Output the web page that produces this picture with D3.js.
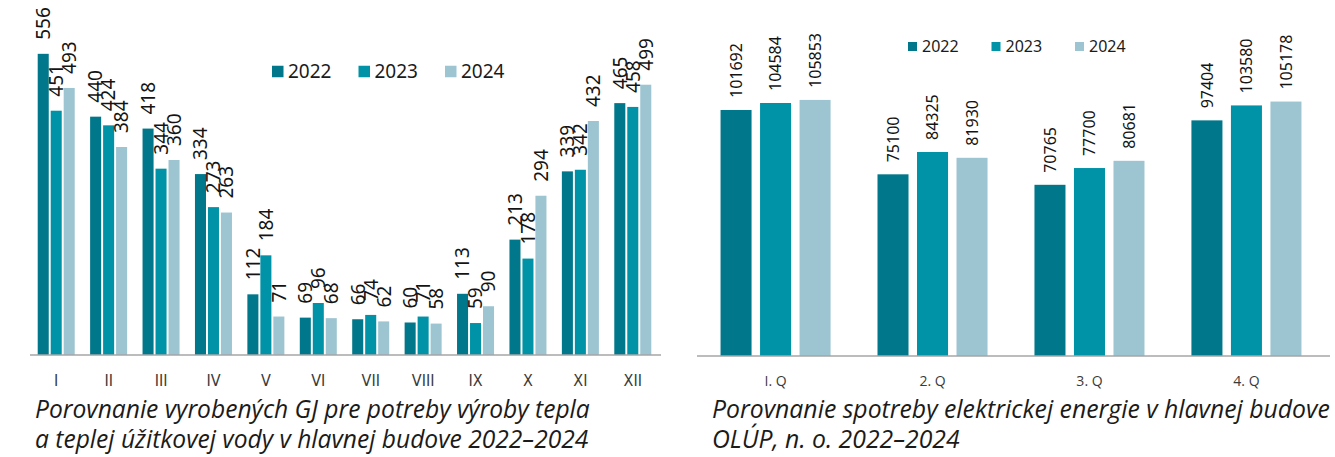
<!DOCTYPE html>
<html>
<head>
<meta charset="utf-8">
<script src="https://cdn.jsdelivr.net/npm/d3@7"></script>
<style>
  body { margin: 0; background: #fff; }
  svg { display: block; }
</style>
</head>
<body>
<div id="chart"></div>
<script>
const width = 1335
const height = 457

// data
const years = ["2022", "2023", "2024"]
const months = ["I", "II", "III", "IV", "V", "VI", "VII", "VIII", "IX", "X", "XI", "XII"]
const gj2022 = [556, 440, 418, 334, 112, 69, 66, 60, 113, 213, 339, 465]
const gj2023 = [451, 424, 344, 273, 184, 96, 74, 71, 59, 178, 342, 458]
const gj2024 = [493, 384, 360, 263, 71, 68, 62, 58, 90, 294, 432, 499]
const quarters = ["I. Q", "2. Q", "3. Q", "4. Q"]
const el2022 = [101692, 75100, 70765, 97404]
const el2023 = [104584, 84325, 77700, 103580]
const el2024 = [105853, 81930, 80681, 105178]
const caption1 = ["Porovnanie vyrobených GJ pre potreby výroby tepla", "a teplej úžitkovej vody v hlavnej budove 2022–2024"]
const caption2 = ["Porovnanie spotreby elektrickej energie v hlavnej budove", "OLÚP, n. o. 2022–2024"]

const colors = d3.scaleOrdinal().domain(years).range(["#00778a", "#0093a7", "#9cc4d1"])

const svg = d3.select("#chart").append("svg").attr("width", width).attr("height", height)

function drawChart(opts) {
    const g = svg.append("g")
    const rows = opts.cats.map((c, i) => ({cat: c, values: years.map((yr, k) => ({year: yr, value: opts.series[k][i]}))}))

    const x0 = d3.scaleBand().domain(opts.cats).range(opts.xRange)
        .paddingInner(opts.padInner).paddingOuter(opts.padOuter)
    const x1 = d3.scaleBand().domain(years).range([0, x0.bandwidth()]).paddingInner(opts.barPad)
    const y = d3.scaleLinear().domain(opts.yDomain).range(opts.yRange)

    const groups = g.selectAll("g.grp").data(rows).join("g")
        .attr("class", "grp")
        .attr("transform", d => `translate(${x0(d.cat)},0)`)

    groups.selectAll("rect").data(d => d.values).join("rect")
        .attr("x", d => x1(d.year))
        .attr("y", d => y(d.value))
        .attr("width", x1.bandwidth())
        .attr("height", d => y(0) - y(d.value))
        .attr("fill", d => colors(d.year))

    groups.selectAll("text.val").data(d => d.values).join("text")
        .attr("class", "val")
        .attr("transform", d => `translate(${x1(d.year) + x1.bandwidth() / 2},${y(d.value) - opts.labelGap}) rotate(-90)`)
        .attr("dy", "0.36em")
        .attr("font-family", "'Noto Sans', sans-serif")
        .attr("font-size", opts.labelSize)
        .attr("fill", "#141414")
        .text(d => d.value)

    // baseline + category labels
    const axis = g.append("g").attr("transform", `translate(0,${y(0)})`)
        .call(d3.axisBottom(x0).tickSize(0).tickPadding(opts.tickPad))
    axis.select(".domain").attr("stroke", "#a6a6a6").attr("stroke-width", 1.5)
        .attr("d", `M${opts.xRange[0]},0H${opts.axisEnd}`)
    axis.selectAll("text")
        .attr("font-family", opts.tickFont)
        .attr("font-size", opts.tickSize)
        .attr("fill", "#3a3a3a")

    // legend
    const leg = g.selectAll("g.leg").data(years).join("g")
        .attr("class", "leg")
        .attr("transform", (d, i) => `translate(${opts.legX + i * opts.legStep},${opts.legY})`)
    leg.append("rect")
        .attr("x", 0).attr("y", -opts.sw / 2)
        .attr("width", opts.sw).attr("height", opts.sw)
        .attr("fill", d => colors(d))
    leg.append("text")
        .attr("x", opts.legTextDx).attr("dy", "0.36em")
        .attr("font-family", "'Noto Sans', sans-serif")
        .attr("font-size", opts.legSize)
        .attr("fill", "#1b1b1b")
        .text(d => d)

    // caption, fitted to the width of the first line
    const cap = g.selectAll("text.cap").data(opts.caption).join("text")
        .attr("class", "cap")
        .attr("x", opts.capX)
        .attr("y", (d, i) => 418 + i * 30)
        .attr("font-family", "'Open Sans', 'Noto Sans', sans-serif")
        .attr("font-style", "italic")
        .attr("font-size", 20)
        .attr("fill", "#1b1b1b")
        .text(d => d)
    const w = cap.node().getComputedTextLength()
    cap.attr("font-size", 20 * opts.capWidth / w)
}

drawChart({
    cats: months, series: [gj2022, gj2023, gj2024],
    xRange: [30, 659], axisEnd: 661, padInner: 0.294, padOuter: 0.147, barPad: 0.15,
    yDomain: [0, 600], yRange: [355, 30],
    labelGap: 14, labelSize: 19,
    tickPad: 20, tickSize: 16, tickFont: "'Liberation Sans Narrow', 'DejaVu Sans Condensed', sans-serif",
    legX: 272, legY: 71.5, legStep: 86.5, sw: 11.5, legTextDx: 16, legSize: 19,
    caption: caption1, capX: 35, capWidth: 555
})

drawChart({
    cats: quarters, series: [el2022, el2023, el2024],
    xRange: [697, 1325], axisEnd: 1330, padInner: 0.299, padOuter: 0.15, barPad: 0.215,
    yDomain: [0, 120000], yRange: [356, 65.7],
    labelGap: 12, labelSize: 16,
    tickPad: 20, tickSize: 14, tickFont: "'Open Sans', 'Noto Sans', sans-serif",
    legX: 908, legY: 46.5, legStep: 83.5, sw: 9, legTextDx: 14, legSize: 16,
    caption: caption2, capX: 712, capWidth: 618
})
</script>
</body>
</html>
